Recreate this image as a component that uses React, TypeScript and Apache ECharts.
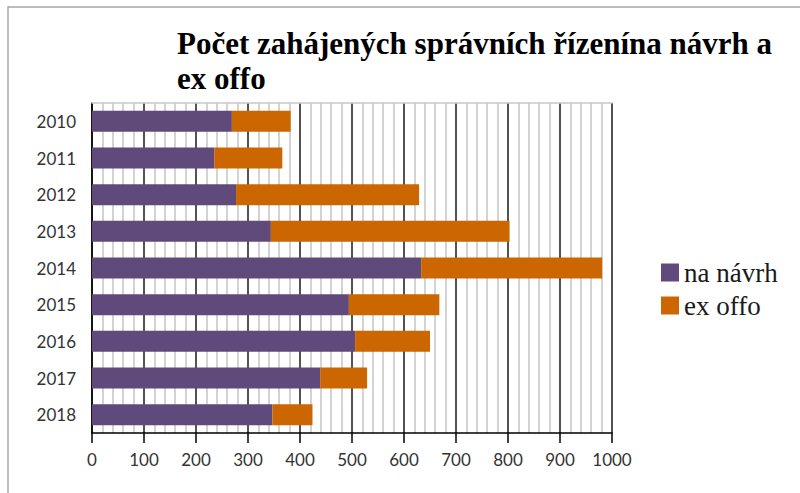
import React, { useEffect, useRef } from "react";
import * as echarts from "echarts";

const years = ["2010", "2011", "2012", "2013", "2014", "2015", "2016", "2017", "2018"];
const naNavrh = [269, 235, 277, 344, 633, 494, 506, 439, 347];
const exOffo = [113, 131, 352, 459, 348, 174, 144, 90, 77];
const seriesNames = ["na návrh", "ex offo"];
const titleText = "Počet zahájených správních řízenína návrh a\nex offo";

export default function App() {
  const ref = useRef<HTMLDivElement>(null);
  useEffect(() => {
    if (!ref.current) return;
    const chart = echarts.init(ref.current, null, { renderer: "svg" });
    chart.setOption({
      animation: false,
      backgroundColor: "#ffffff",
      title: {
        text: titleText,
        left: 172,
        top: 21,
        textStyle: {
          fontFamily: "Liberation Serif",
          fontWeight: "bold",
          fontSize: 31,
          lineHeight: 35,
          color: "#000000",
        },
      },
      legend: {
        orient: "vertical",
        left: 656,
        top: 253,
        itemWidth: 18,
        itemHeight: 18,
        itemGap: 4,
        icon: "rect",
        textStyle: { fontFamily: "Liberation Serif", fontSize: 27, lineHeight: 29, color: "#1a1a1a" },
        data: seriesNames,
      },
      graphic: [
        {
          type: "rect",
          shape: { x: 8, y: 7, width: 820, height: 520 },
          style: { fill: "none", stroke: "#a6a6a6", lineWidth: 1.5 },
          silent: true,
        },
      ],
      grid: { left: 92, right: 188, top: 103, bottom: 60, containLabel: false },
      xAxis: [
        {
          type: "value",
          min: 0,
          max: 1000,
          interval: 100,
          axisLine: { show: true, lineStyle: { color: "#000000", width: 1.5 } },
          axisTick: { show: true, length: 10, lineStyle: { color: "#000000", width: 1.5 } },
          axisLabel: {
            margin: 18,
            fontFamily: "Lato",
            fontSize: 17,
            color: "#333333",
            formatter: (v: number) => String(v),
          },
          splitLine: { show: true, lineStyle: { color: "#1a1a1a", width: 1.5 } },
          minorTick: { show: false, splitNumber: 5 },
          minorSplitLine: { show: true, lineStyle: { color: "#c8c8c8", width: 1.6 } },
        },
        {
          type: "value",
          position: "top",
          min: 0,
          max: 1000,
          interval: 100,
          axisLine: { show: true, lineStyle: { color: "#c8c8c8", width: 1.5 } },
          axisTick: { show: false },
          axisLabel: { show: false },
          splitLine: { show: false },
        },
      ],
      yAxis: {
        type: "category",
        inverse: true,
        data: years,
        axisLine: { show: true, lineStyle: { color: "#000000", width: 1.5 } },
        axisTick: { show: false },
        axisLabel: { margin: 16, fontFamily: "Lato", fontSize: 17, color: "#333333" },
      },
      series: [
        {
          name: seriesNames[0],
          type: "bar",
          stack: "total",
          data: naNavrh,
          barWidth: 21,
          itemStyle: { color: "#604a7b" },
        },
        {
          name: seriesNames[1],
          type: "bar",
          stack: "total",
          data: exOffo,
          barWidth: 21,
          itemStyle: { color: "#cc6600" },
        },
      ],
    });
    return () => chart.dispose();
  }, []);
  return (
    <div
      ref={ref}
      style={{ position: "fixed", left: 0, top: 0, width: 800, height: 493 }}
    />
  );
}
